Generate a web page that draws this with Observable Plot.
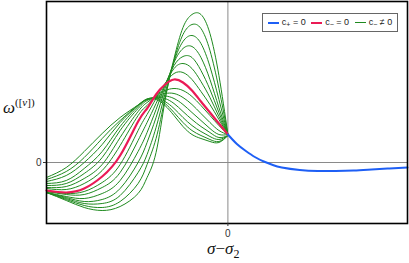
<!DOCTYPE html>
<html><head><meta charset="utf-8">
<script src="https://cdn.jsdelivr.net/npm/d3@7"></script>
<script src="https://cdn.jsdelivr.net/npm/@observablehq/plot@0.6"></script>
<style>
html,body{margin:0;padding:0;background:#fff;}
#wrap{position:relative;width:409px;height:263px;overflow:hidden;}
.ylab{position:absolute;left:3px;top:96px;font-family:"Liberation Serif","DejaVu Serif",serif;font-size:17px;color:#111;white-space:nowrap;}
.ylab sup{font-size:11px;vertical-align:7px;font-style:normal;}
.xlab{position:absolute;left:207px;top:239px;font-family:"Liberation Serif","DejaVu Serif",serif;font-size:17px;color:#111;white-space:nowrap;line-height:20px;}
.xlab sub{font-size:12px;vertical-align:-4px;}
.legend{position:absolute;left:262px;top:13px;width:136px;height:19px;border:1px solid #666;background:#fff;
  font-family:"Liberation Sans",Arial,sans-serif;font-size:9px;color:#222;display:flex;align-items:center;justify-content:space-around;padding:0 2px;box-sizing:border-box;}
.legend span.sw{display:inline-block;width:11px;height:0;vertical-align:middle;margin-right:3px;}
.legend sub{font-size:7px;vertical-align:-2px;}
</style>
</head><body>
<div id="wrap"></div>
<script>
// sample positions (σ−σ₂) for the c₋ curves
const xs = [-1.01,-0.9,-0.8,-0.7,-0.6,-0.5,-0.45,-0.4,-0.35,-0.3,-0.25,-0.2,-0.15,-0.1,-0.05,0];
// c₋ = 0 (red)
const cMinusZero = [-0.28,-0.30,-0.26,-0.14,0.07,0.41,0.54,0.68,0.78,0.83,0.80,0.72,0.61,0.50,0.39,0.28];
// c₋ ≠ 0 (green family)
const gM7 = [-0.15,-0.05,0.11,0.29,0.45,0.575,0.63,0.63,0.57,0.47,0.36,0.28,0.24,0.21,0.20,0.27];
const gM6 = [-0.17,-0.09,0.05,0.24,0.42,0.575,0.635,0.64,0.59,0.50,0.40,0.32,0.27,0.23,0.21,0.27];
const gM5 = [-0.19,-0.13,0.00,0.18,0.40,0.57,0.635,0.645,0.61,0.54,0.45,0.37,0.31,0.26,0.23,0.27];
const gM4 = [-0.21,-0.18,-0.06,0.11,0.36,0.56,0.63,0.65,0.64,0.59,0.51,0.43,0.36,0.30,0.25,0.27];
const gM3 = [-0.23,-0.21,-0.11,0.05,0.32,0.54,0.62,0.655,0.665,0.64,0.58,0.50,0.42,0.34,0.28,0.28];
const gM2 = [-0.25,-0.24,-0.16,-0.02,0.25,0.51,0.60,0.66,0.69,0.69,0.65,0.58,0.49,0.40,0.32,0.28];
const gM1 = [-0.26,-0.27,-0.21,-0.08,0.17,0.47,0.57,0.665,0.72,0.74,0.72,0.66,0.57,0.47,0.37,0.28];
const gP1 = [-0.29,-0.31,-0.29,-0.20,-0.02,0.32,0.48,0.64,0.79,0.89,0.90,0.83,0.71,0.58,0.43,0.28];
const gP2 = [-0.29,-0.32,-0.32,-0.25,-0.10,0.22,0.40,0.59,0.78,0.94,0.99,0.94,0.81,0.65,0.46,0.28];
const gP3 = [-0.30,-0.34,-0.36,-0.31,-0.18,0.11,0.30,0.53,0.77,0.97,1.06,1.05,0.92,0.73,0.50,0.28];
const gP4 = [-0.30,-0.35,-0.39,-0.37,-0.26,0.00,0.20,0.45,0.74,1.00,1.14,1.16,1.05,0.83,0.55,0.28];
const gP5 = [-0.30,-0.36,-0.41,-0.41,-0.33,-0.10,0.08,0.35,0.69,1.01,1.21,1.27,1.19,0.96,0.63,0.28];
const gP6 = [-0.30,-0.37,-0.43,-0.45,-0.39,-0.21,-0.02,0.24,0.64,1.02,1.28,1.38,1.34,1.12,0.74,0.28];
const gP7 = [-0.30,-0.38,-0.45,-0.48,-0.44,-0.31,-0.15,0.10,0.62,1.04,1.35,1.48,1.48,1.29,0.87,0.28];
const greens = [gM7,gM6,gM5,gM4,gM3,gM2,gM1,gP1,gP2,gP3,gP4,gP5,gP6,gP7];
// c₊ = 0 (blue)
const bx = [0,0.05,0.1,0.15,0.2,0.25,0.3,0.4,0.5,0.6,0.7,0.8,0.9,1.0];
const by = [0.28,0.185,0.115,0.055,0.01,-0.025,-0.05,-0.075,-0.085,-0.085,-0.08,-0.07,-0.06,-0.05];
const xTicks = [0], yTicks = [0];

const greenRows = greens.flatMap((s,k)=>s.map((y,i)=>({x:xs[i],y,k})));
const redRows = cMinusZero.map((y,i)=>({x:xs[i],y}));
const blueRows = by.map((y,i)=>({x:bx[i],y}));

const chart = Plot.plot({
  width:409, height:263, marginLeft:46, marginRight:2, marginTop:1, marginBottom:40,
  style:{fontFamily:"'Liberation Sans',Arial,sans-serif", fontSize:"10px", color:"#333", background:"#fff"},
  x:{domain:[-1.01,1.0]},
  y:{domain:[-0.61,1.61]},
  marks:[
    Plot.ruleY([0],{stroke:"#8a8a8a", strokeWidth:1}),
    Plot.ruleX([0],{stroke:"#8a8a8a", strokeWidth:1}),
    Plot.line(greenRows,{x:"x",y:"y",z:"k",stroke:"#1f8a1f",strokeWidth:1,curve:"natural"}),
    Plot.line(redRows,{x:"x",y:"y",stroke:"#ea1a55",strokeWidth:2.2,curve:"natural"}),
    Plot.line(blueRows,{x:"x",y:"y",stroke:"#1e5ff5",strokeWidth:2,curve:"natural"}),
    Plot.frame({stroke:"#000", strokeWidth:1.6}),
    Plot.axisX({ticks:xTicks, tickSize:3, tickPadding:3, label:null, tickFormat:d=>"0"}),
    Plot.axisY({ticks:yTicks, tickSize:3, tickPadding:2, label:null, tickFormat:d=>"0"})
  ]
});
const wrap = document.getElementById("wrap");
wrap.appendChild(chart);
const yl = document.createElement("div"); yl.className="ylab";
yl.innerHTML = '<i>ω</i><sup>([<i>ν</i>])</sup>';
wrap.appendChild(yl);
const xl = document.createElement("div"); xl.className="xlab";
xl.innerHTML = '<i>σ</i>−<i>σ</i><sub>2</sub>';
wrap.appendChild(xl);
const lg = document.createElement("div"); lg.className="legend";
lg.innerHTML = '<span><span class="sw" style="border-top:2px solid #1e5ff5"></span>c<sub>+</sub> = 0</span>'+
  '<span><span class="sw" style="border-top:2px solid #ea1a55"></span>c<sub>−</sub> = 0</span>'+
  '<span><span class="sw" style="border-top:1.5px solid #1f8a1f"></span>c<sub>−</sub> ≠ 0</span>';
wrap.appendChild(lg);
</script>
</body></html>
